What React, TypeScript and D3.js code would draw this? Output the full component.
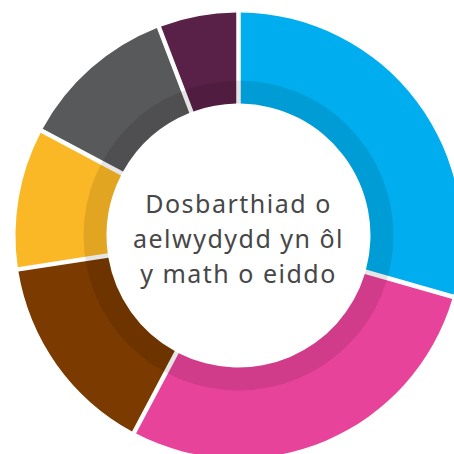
import React from 'react'
import * as d3 from 'd3'

// share of households by property type (percent)
const categories = ['Blue', 'Pink', 'Brown', 'Yellow', 'Grey', 'Purple']
const values = [29.4, 28.3, 14.8, 10.2, 11.4, 5.8]
const colours = ['#00aeef', '#e8439a', '#7a3a00', '#fbb826', '#58595b', '#5a2148']
const titleLines = ['Dosbarthiad o', 'aelwydydd yn ôl', 'y math o eiddo']

function App() {
  const width = 454
  const height = 454
  const cx = 238.5
  const cy = 235.5
  const outerR = 223
  const innerR = 132
  const shadeR = 155

  const pie = d3
    .pie<number>()
    .sort(null)
    .value(d => d)
  const arcs = pie(values)

  const arc = d3
    .arc<d3.PieArcDatum<number>>()
    .innerRadius(innerR)
    .outerRadius(outerR)
    .padRadius(outerR)
    .padAngle(4.5 / outerR)

  // darker band along the inner edge of the ring
  const shade = d3.arc()({
    innerRadius: innerR,
    outerRadius: shadeR,
    startAngle: 0,
    endAngle: Math.PI * 2,
  }) as string

  return (
    <svg
      width={width}
      height={height}
      style={{ position: 'absolute', left: 0, top: 0 }}
    >
      <g transform={`translate(${cx} ${cy})`}>
        {arcs.map((a, i) => (
          <path key={categories[i]} d={arc(a) as string} fill={colours[i]} />
        ))}
        <path d={shade} fill="#000" opacity={0.1} />
        {titleLines.map((line, i) => (
          <text
            key={line}
            x={0}
            y={(i - 1) * 35 + 12}
            textAnchor="middle"
            fontFamily="'Noto Sans', sans-serif"
            fontSize={25}
            letterSpacing={1.5}
            fill="#474747"
          >
            {line}
          </text>
        ))}
      </g>
    </svg>
  )
}

export default App
